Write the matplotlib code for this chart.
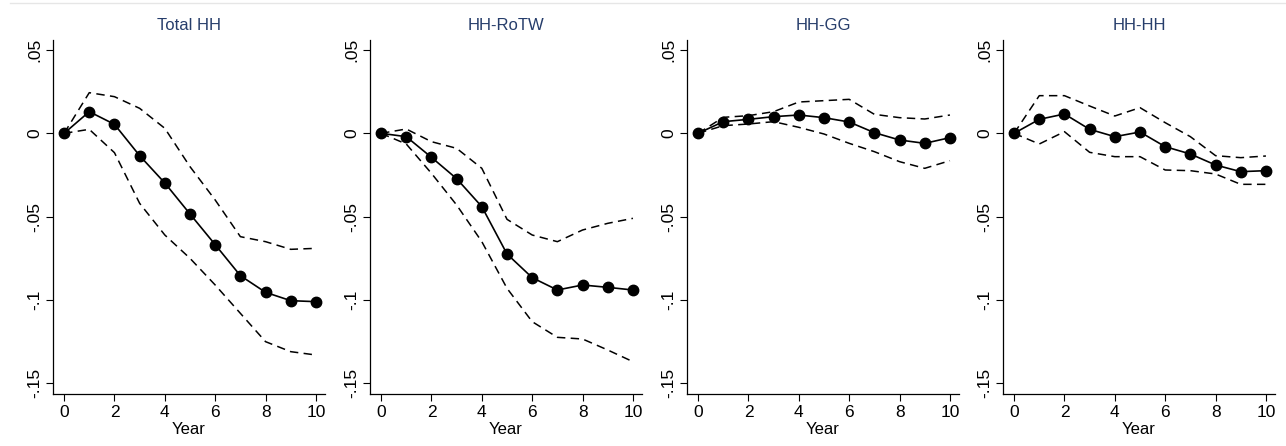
import matplotlib.pyplot as plt
from matplotlib.lines import Line2D

plt.rcParams['font.family'] = ['Liberation Sans', 'DejaVu Sans']

years = list(range(11))

titles = ["Total HH", "HH-RoTW", "HH-GG", "HH-HH"]

estimate = [
    [0, 0.013, 0.0054, -0.0134, -0.0298, -0.0484, -0.0668, -0.0854, -0.0954, -0.1004, -0.101],
    [0, -0.002, -0.0144, -0.0272, -0.044, -0.0724, -0.0866, -0.094, -0.091, -0.0924, -0.094],
    [0, 0.007, 0.0084, 0.010, 0.011, 0.0094, 0.0068, 0.0004, -0.004, -0.006, -0.0026],
    [0, 0.0084, 0.0116, 0.0024, -0.002, 0.0008, -0.008, -0.0124, -0.019, -0.023, -0.0224],
]
upper = [
    [0, 0.0244, 0.022, 0.015, 0.003, -0.020, -0.040, -0.062, -0.065, -0.0696, -0.069],
    [0, 0.0026, -0.005, -0.009, -0.021, -0.0516, -0.061, -0.065, -0.058, -0.054, -0.051],
    [0, 0.0096, 0.0106, 0.013, 0.0188, 0.0196, 0.0204, 0.0114, 0.0094, 0.0086, 0.011],
    [0, 0.0226, 0.0226, 0.0164, 0.0104, 0.0154, 0.0064, -0.002, -0.0134, -0.0146, -0.0136],
]
lower = [
    [0, 0.0024, -0.0116, -0.042, -0.061, -0.075, -0.091, -0.108, -0.125, -0.131, -0.133],
    [0, -0.0064, -0.024, -0.043, -0.065, -0.093, -0.113, -0.1224, -0.1234, -0.130, -0.137],
    [0, 0.0046, 0.0056, 0.007, 0.0036, -0.0004, -0.006, -0.011, -0.017, -0.021, -0.0164],
    [0, -0.0064, 0.001, -0.0114, -0.014, -0.014, -0.022, -0.0224, -0.0244, -0.0306, -0.0306],
]

yticks = [0.05, 0, -0.05, -0.1, -0.15]
ytick_labels = [".05", "0", "-.05", "-.1", "-.15"]
xticks = [0, 2, 4, 6, 8, 10]

W, H = 1286, 446
fig = plt.figure(figsize=(W / 100, H / 100), dpi=100)

lefts = [53, 370, 687, 1003]
ax_w = 272
top, bottom = 40, 394

for i in range(4):
    ax = fig.add_axes([lefts[i] / W, 1 - bottom / H, ax_w / W, (bottom - top) / H])
    ax.plot(years, upper[i], color="black", linestyle=(0, (5.5, 3.5)), linewidth=1.1)
    ax.plot(years, lower[i], color="black", linestyle=(0, (5.5, 3.5)), linewidth=1.1)
    ax.plot(years, estimate[i], color="black", linewidth=1.2, marker="o",
            markersize=7.5)
    ax.set_xlim(-0.44, 10.36)
    ax.set_ylim(-0.1564, 0.056)
    ax.set_yticks(yticks)
    ax.set_yticklabels(ytick_labels, rotation=90, va="center")
    ax.set_xticks(xticks)
    ax.tick_params(direction="out", length=5, width=0.8, labelsize=12.5, pad=3)
    for s in ["top", "right"]:
        ax.spines[s].set_visible(False)
    for s in ["left", "bottom"]:
        ax.spines[s].set_linewidth(0.9)
    ax.set_xlabel("Year", fontsize=12, labelpad=1)
    ax.set_title(titles[i], fontsize=12, color="#263d6b", pad=7)

fig.add_artist(Line2D([10 / W, 1], [1 - 3 / H, 1 - 3 / H], color="#e6e6e6", linewidth=1))

fig.savefig("out.png", dpi=100, facecolor="white")
